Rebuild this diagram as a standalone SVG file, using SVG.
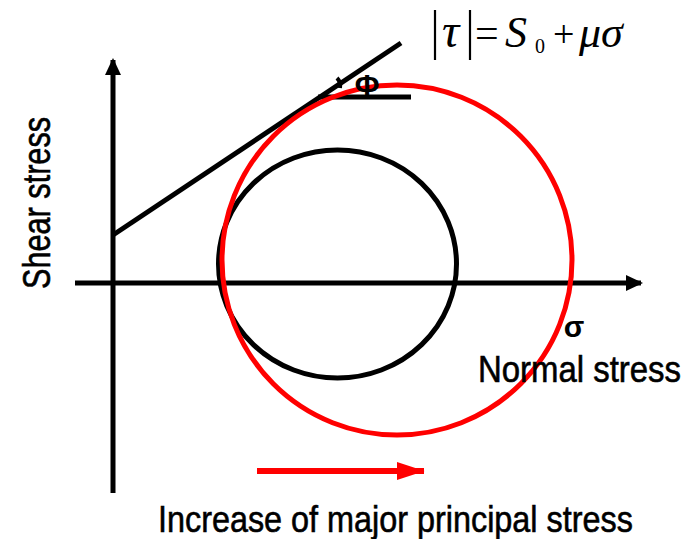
<svg xmlns="http://www.w3.org/2000/svg" width="691" height="539" viewBox="0 0 691 539">
<defs>
<style>
.ax{stroke:#000;stroke-width:5;fill:none}
.lbl{font-family:"Liberation Sans Narrow","Liberation Sans",sans-serif;fill:#000;stroke:#000;stroke-width:0.6}
.eq{font-family:"Liberation Serif","Times New Roman",serif;font-style:normal;fill:#000}
.it{font-style:italic}
</style>
<marker id="ah" markerWidth="4" markerHeight="4" refX="3" refY="2" orient="auto" markerUnits="strokeWidth" viewBox="0 0 4 4"><path d="M0,0.4 L3.4,2 L0,3.6 Z" fill="#000"/></marker>
<marker id="ahr" markerWidth="5" markerHeight="4" refX="4.5" refY="2" orient="auto" markerUnits="strokeWidth" viewBox="0 0 5 4"><path d="M0,0.5 L4.6,2 L0,3.5 Z" fill="#f00"/></marker>
</defs>
<rect width="691" height="539" fill="#fff"/>
<g id="connectors">
<line id="y-axis" class="ax" x1="113" y1="493" x2="113" y2="60" marker-end="url(#ah)"/>
<line id="x-axis" class="ax" x1="75" y1="283" x2="641" y2="283" marker-end="url(#ah)"/>
<line id="failure-line" class="ax" x1="113" y1="235" x2="401" y2="43"/>
<line id="phi-base" class="ax" x1="318" y1="97" x2="411" y2="97"/>
<path id="phi-arc" d="M337,78 Q341,82 340,88" stroke="#000" stroke-width="4" fill="none"/>
<line id="increase-arrow" x1="257" y1="471" x2="424" y2="471" stroke="#f00" stroke-width="6" marker-end="url(#ahr)"/>
</g>
<g id="circle-initial"><ellipse cx="337.5" cy="264" rx="119" ry="114" stroke="#000" stroke-width="5" fill="none"/></g>
<g id="circle-increased"><circle cx="397" cy="260" r="175" stroke="#f00" stroke-width="5" fill="none"/></g>
<g id="equation">
<line x1="435" y1="10" x2="435" y2="60" stroke="#000" stroke-width="2.2"/>
<line x1="470" y1="10" x2="470" y2="60" stroke="#000" stroke-width="2.2"/>
<text class="eq" y="47" font-size="42"><tspan class="it" x="442" font-size="48">τ</tspan><tspan x="475">=</tspan><tspan class="it" x="505" font-size="44">S</tspan><tspan x="535" y="53" font-size="20">0</tspan><tspan x="553" y="47" font-size="38">+</tspan><tspan class="it" x="579" font-size="44">μσ</tspan></text>
</g>
<g id="phi-label"><text x="367" y="95" font-size="30" font-weight="bold" text-anchor="middle" font-family="Liberation Sans,sans-serif">Φ</text></g>
<g id="sigma-label"><text x="574" y="337" font-size="30" font-weight="bold" text-anchor="middle" font-family="Liberation Sans,sans-serif">σ</text></g>
<g id="normal-stress"><text class="lbl" transform="translate(478,382) scale(0.89,1)" font-size="37">Normal stress</text></g>
<g id="shear-stress"><text class="lbl" transform="translate(50,289) rotate(-90) scale(0.807,1)" font-size="38">Shear stress</text></g>
<g id="increase-label"><text class="lbl" transform="translate(158,532) scale(0.875,1)" font-size="37">Increase of major principal stress</text></g>
</svg>
